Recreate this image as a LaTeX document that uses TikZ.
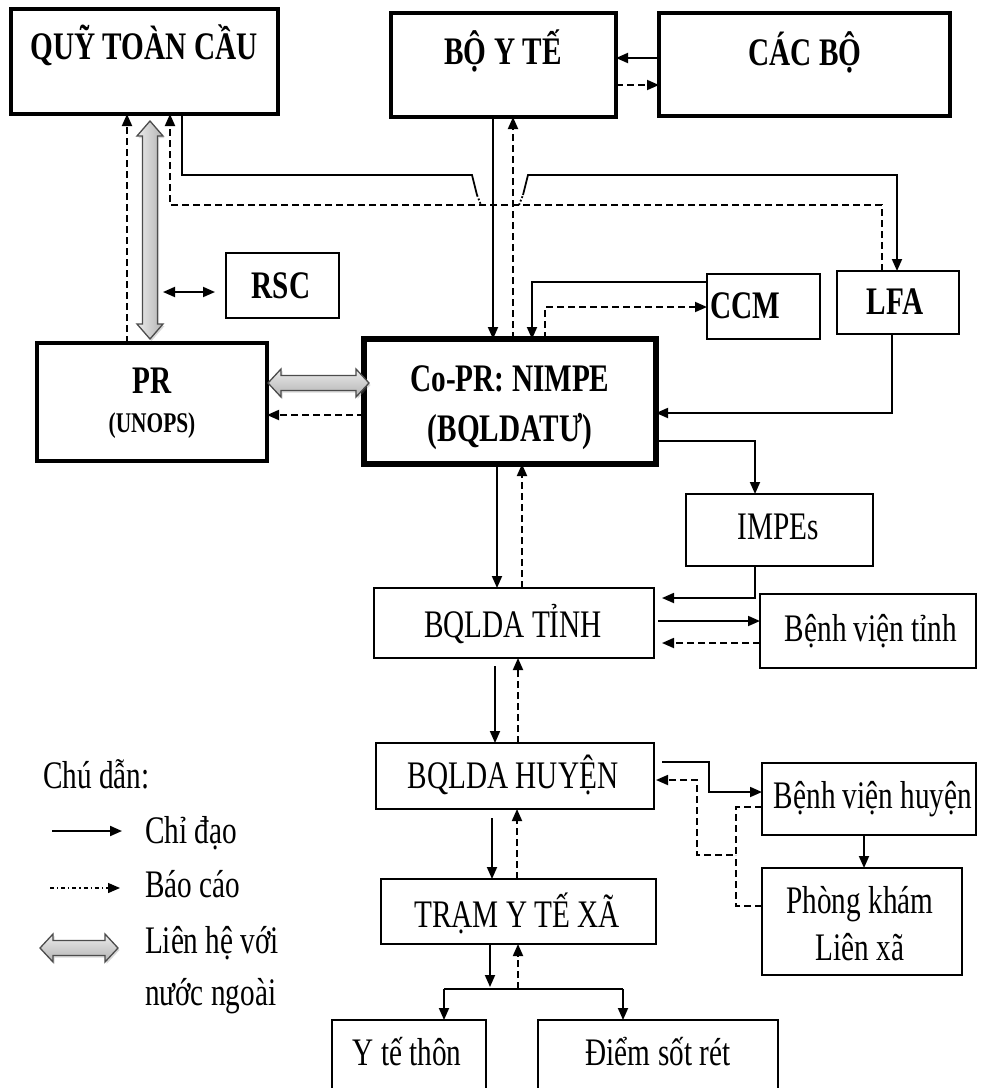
\documentclass[tikz,border=0pt]{standalone}
\usepackage{fontspec}
\setmainfont[FakeStretch=0.75]{Liberation Serif}
\usetikzlibrary{arrows.meta,shadows}
\tikzset{
  thickbox/.style={draw, line width=3.8pt, inner sep=0pt, outer sep=0pt},
  thinbox/.style={draw, line width=1.9pt, inner sep=0pt, outer sep=0pt},
  lbl/.style={inner sep=0pt, outer sep=0pt, text height=25.5pt, text depth=0pt, font=\fontsize{39}{44}\selectfont},
  blbl/.style={lbl, font=\fontsize{39}{44}\selectfont\bfseries},
  slbl/.style={inner sep=0pt, outer sep=0pt, text height=18.5pt, text depth=0pt, font=\fontsize{28.5}{32}\selectfont\bfseries},
  plainln/.style={line width=1.8pt},
  sol/.style={line width=1.8pt, -{Triangle[length=12pt,width=10pt]}},
  rep/.style={sol, dash pattern=on 7pt off 4pt},
  repln/.style={line width=1.8pt, dash pattern=on 7pt off 4pt},
  fatv/.style={draw=black!70, line width=1.3pt, left color=gray!15, right color=gray!60,
     drop shadow={shadow xshift=1.5pt, shadow yshift=-2pt, opacity=0.3}},
  fath/.style={draw=black!70, line width=1.3pt, top color=gray!15, bottom color=gray!60,
     drop shadow={shadow xshift=1.5pt, shadow yshift=-2pt, opacity=0.3}},
}
% vertical fat double arrow: x, ytop, ybottom
\newcommand{\fatV}[3]{%
  \path[fatv] ({#1-7.5},{#2+15}) -- ({#1-13},{#2+15}) -- (#1,#2) -- ({#1+13},{#2+15}) -- ({#1+7.5},{#2+15})
   -- ({#1+7.5},{#3-15}) -- ({#1+13},{#3-15}) -- (#1,#3) -- ({#1-13},{#3-15}) -- ({#1-7.5},{#3-15}) -- cycle;}
% horizontal fat double arrow: y, xleft, xright
\newcommand{\fatH}[3]{%
  \path[fath] ({#2+13},{#1-7.5}) -- ({#2+13},{#1-14}) -- (#2,#1) -- ({#2+13},{#1+14}) -- ({#2+13},{#1+7.5})
   -- ({#3-13},{#1+7.5}) -- ({#3-13},{#1+14}) -- (#3,#1) -- ({#3-13},{#1-14}) -- ({#3-13},{#1-7.5}) -- cycle;}
\begin{document}
\begin{tikzpicture}[x=1pt,y=-1pt]
\useasboundingbox (0,0) rectangle (984,1088);
\clip (0,0) rectangle (984,1088);
\fill[white] (0,0) rectangle (984,1088);

% ---------- boxes ----------
\node[thickbox, minimum width=267, minimum height=105] (qtc) at (144.5,61.5) {};
\node[thickbox, minimum width=225, minimum height=104] (byt) at (503.5,65) {};
\node[thickbox, minimum width=291, minimum height=103] (cacbo) at (804.5,64.5) {};
\node[thinbox, minimum width=113, minimum height=65] (rsc) at (282.5,285.5) {};
\node[thinbox, minimum width=113, minimum height=65] (ccm) at (763.5,306.5) {};
\node[thinbox, minimum width=122, minimum height=63] (lfa) at (898,302.5) {};
\node[thickbox, minimum width=230, minimum height=118] (pr) at (152,402) {};
\node[draw, line width=6.5pt, inner sep=0pt, outer sep=0pt, minimum width=292, minimum height=125] (copr) at (510,401.5) {};
\node[thinbox, minimum width=187, minimum height=72] (impes) at (779.5,530) {};
\node[thinbox, minimum width=280, minimum height=70] (tinh) at (514,623) {};
\node[thinbox, minimum width=216, minimum height=74] (bvt) at (868,631) {};
\node[thinbox, minimum width=278, minimum height=66] (huyen) at (515,776) {};
\node[thinbox, minimum width=214, minimum height=72] (bvh) at (869,799) {};
\node[thinbox, minimum width=200, minimum height=107] (pk) at (862,921.5) {};
\node[thinbox, minimum width=275, minimum height=65] (tram) at (518.5,911.5) {};
\node[thinbox, minimum width=154, minimum height=90] (ytt) at (409,1065) {};
\node[thinbox, minimum width=240, minimum height=90] (dsr) at (658,1065) {};

% ---------- texts ----------
\node[blbl] (tqtc) at (144,46.5) {QUỸ TOÀN CẦU};
\node[blbl] (tbyt) at (503,51.5) {BỘ Y TẾ};
\node[blbl] (tcacbo) at (805,52.5) {CÁC BỘ};
\node[blbl] (trsc) at (281,285.5) {RSC};
\node[blbl] (tccm) at (745,305.5) {CCM};
\node[blbl] (tlfa) at (895,301.5) {LFA};
\node[blbl] (tpr) at (152,380.5) {PR};
\node[slbl] (tunops) at (152,423.5) {(UNOPS)};
\node[blbl] (tcopr1) at (510,378.5) {Co-PR: NIMPE};
\node[blbl] (tcopr2) at (510,429) {(BQLDATƯ)};
\node[lbl] (timpes) at (778,527) {IMPEs};
\node[lbl] (ttinh) at (513,624.5) {BQLDA TỈNH};
\node[lbl] (tbvt) at (871,628.5) {Bệnh viện tỉnh};
\node[lbl] (thuyen) at (513,776) {BQLDA HUYỆN};
\node[lbl] (tbvh) at (873,795.5) {Bệnh viện huyện};
\node[lbl] (tpk1) at (860,901) {Phòng khám};
\node[lbl] (tpk2) at (860,948) {Liên xã};
\node[lbl] (ttram) at (517,915) {TRẠM Y TẾ XÃ};
\node[lbl] (tytt) at (407,1053) {Y tế thôn};
\node[lbl] (tdsr) at (658,1053) {Điểm sốt rét};

% ---------- connectors (top) ----------
\draw[sol] (cacbo.west |- 0,58) -- (byt.east |- 0,58);
\draw[rep] (byt.east |- 0,85) -- (cacbo.west |- 0,85);
\draw[sol] (byt.south -| 493,0) -- (copr.north -| 493,0);
\draw[rep] (copr.north -| 513,0) -- (byt.south -| 513,0);
% QUY -> LFA (with dip)
\draw[plainln] (qtc.south -| 182,0) -- (182,175) -- (472,175) -- (477,195);
\draw[plainln, dotted] (477,195) -- (481,205);
\draw[plainln, dotted] (519,205) -- (523,195);
\draw[sol] (523,195) -- (528,175) -- (897,175) -- (lfa.north -| 897,0);
% LFA -> QUY dashed
\draw[rep] (lfa.north -| 882,0) -- (882,205) -- (170,205) -- (qtc.south -| 170,0);
% PR -> QUY dashed
\draw[rep] (pr.north -| 127,0) -- (qtc.south -| 127,0);
% fat arrow QUY <-> PR
\fatV{150}{121}{339}
\coordinate (fatmid) at (158,292);
\draw[line width=1.8pt, {Triangle[length=12pt,width=10pt]}-{Triangle[length=12pt,width=10pt]}, shorten <=5pt, shorten >=11pt] (fatmid) -- (rsc.west |- fatmid);
% CCM <-> CoPR
\draw[sol] (ccm.west |- 0,282) -- (532,282) -- (copr.north -| 532,0);
\draw[rep] (copr.north -| 545,0) -- (545,307) -- (ccm.west |- 0,307);
% LFA -> CoPR
\draw[sol] (lfa.south -| 892,0) -- (892,413) -- (copr.east |- 0,413);
% CoPR -> IMPEs
\draw[sol] (copr.east |- 0,441) -- (755,441) -- (impes.north -| 755,0);
% CoPR <-> PR
\fatH{383}{268}{369}
\draw[rep] (copr.west |- 0,415) -- (pr.east |- 0,415);

% ---------- lower ----------
\draw[sol] (copr.south -| 497,0) -- (tinh.north -| 497,0);
\draw[rep] (tinh.north -| 522,0) -- (copr.south -| 522,0);
\draw[sol, shorten >=8pt] (impes.south -| 755,0) -- (755,598) -- (tinh.east |- 0,598);
\draw[sol, shorten <=4pt] (tinh.east |- 0,621) -- (bvt.west |- 0,621);
\draw[rep, shorten >=8pt] (bvt.west |- 0,643) -- (tinh.east |- 0,643);
\draw[sol, shorten <=8pt] (tinh.south -| 495,0) -- (huyen.north -| 495,0);
\draw[rep] (huyen.north -| 518,0) -- (tinh.south -| 518,0);
\draw[sol, shorten <=8pt] (huyen.east |- 0,762) -- (709,762) -- (709,792) -- (bvh.west |- 0,792);
\draw[rep, shorten >=2pt] (bvh.west |- 0,807) -- (736,807) -- (736,855) -- (697,855) -- (697,780) -- (huyen.east |- 0,780);
\draw[repln] (pk.west |- 0,906) -- (736,906) -- (736,855);
\draw[sol] (bvh.south -| 864,0) -- (pk.north -| 864,0);
\draw[sol, shorten <=9pt] (huyen.south -| 492,0) -- (tram.north -| 492,0);
\draw[rep] (tram.north -| 517,0) -- (huyen.south -| 517,0);
\coordinate (brl) at (444,989);
\coordinate (brr) at (623,989);
\draw[sol] (tram.south -| 490,0) -- (490,987);
\draw[rep] (518,989) -- (tram.south -| 518,0);
\draw[plainln] (brl) -- (brr);
\draw[sol] (brl) -- (ytt.north -| brl);
\draw[sol] (brr) -- (dsr.north -| brr);

% ---------- legend ----------
\node[lbl, anchor=west] (lg0) at (43,776) {Chú dẫn:};
\coordinate (lga1) at (52,831);
\coordinate (lga2) at (122,831);
\draw[sol, line width=2pt] (lga1) -- (lga2);
\node[lbl, anchor=west] (lg1) at (145,831) {Chỉ đạo};
\coordinate (lgb1) at (50,888);
\coordinate (lgb2) at (120,888);
\draw[sol, line width=1.4pt, dash pattern=on 4pt off 3pt on 1.2pt off 3pt] (lgb1) -- (lgb2);
\node[lbl, anchor=west] (lg2) at (145,885) {Báo cáo};
\fatH{948}{40}{118}
\node[lbl, anchor=west] (lg3) at (145,941) {Liên hệ với};
\node[lbl, anchor=west] (lg4) at (145,993) {nước ngoài};
\end{tikzpicture}
\end{document}
